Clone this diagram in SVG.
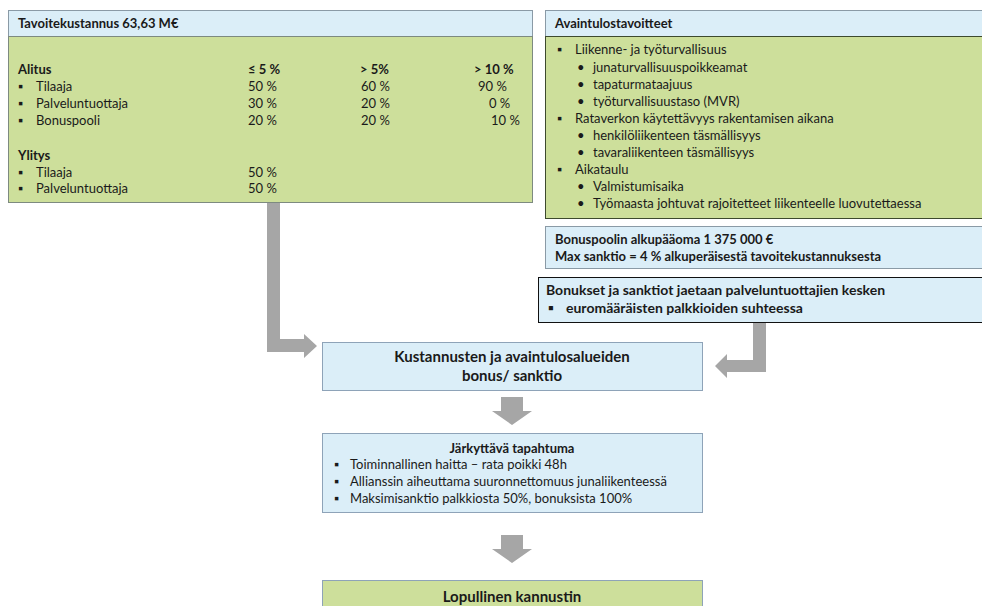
<svg xmlns="http://www.w3.org/2000/svg" width="982" height="606" viewBox="0 0 982 606">
  <style>
    text { font-family: Lato, "Open Sans", "Liberation Sans", sans-serif; font-size: 13px; fill: #1a1a1a; }
    .b { font-weight: bold; }
    .m { font-size: 14px; font-weight: bold; }
    .big { font-size: 15px; font-weight: bold; }
    .c { text-anchor: middle; }
    .hdr { fill: #dbeef8; }
    .grn { fill: #cddf9b; }
    .blu { fill: #dbeef8; }
    .arrow { fill: #a6a6a6; }
  </style>
  <rect width="982" height="606" fill="#ffffff"/>

  <!-- connectors -->
  <g id="connectors">
    <path class="arrow" d="M267,202 H280 V339 H304 V334 L317,346 L304,358 V352 H267 Z"/>
    <path class="arrow" d="M753,322 H766 V372 H727 V378 L715,366 L727,354 V360 H753 Z"/>
    <path class="arrow" d="M501,397 H523 V411 H532 L512,425 L492,411 H501 Z"/>
    <path class="arrow" d="M501,535 H523 V549 H532 L512,563 L492,549 H501 Z"/>
  </g>

  <!-- target cost -->
  <g id="tavoitekustannus">
    <rect x="8.5" y="10.5" width="524" height="26" class="hdr" stroke="#8a9aa6"/>
    <rect x="8.5" y="36.5" width="524" height="166" class="grn" stroke="#7d8a80"/>
    <text x="18" y="28" class="b">Tavoitekustannus 63,63 M€</text>
    <text x="18" y="74" class="b">Alitus</text>
    <text x="248" y="74" class="b">≤ 5 %</text>
    <text x="360" y="74" class="b">&gt; 5%</text>
    <text x="474" y="74" class="b">&gt; 10 %</text>
    <text x="18" y="91">▪</text><text x="36" y="91">Tilaaja</text>
    <text x="248" y="91">50 %</text><text x="361" y="91">60 %</text><text x="478" y="91">90 %</text>
    <text x="18" y="108">▪</text><text x="36" y="108">Palveluntuottaja</text>
    <text x="248" y="108">30 %</text><text x="361" y="108">20 %</text><text x="489" y="108">0 %</text>
    <text x="18" y="125">▪</text><text x="36" y="125">Bonuspooli</text>
    <text x="248" y="125">20 %</text><text x="361" y="125">20 %</text><text x="491" y="125">10 %</text>
    <text x="18" y="160" class="b">Ylitys</text>
    <text x="18" y="177">▪</text><text x="36" y="177">Tilaaja</text><text x="248" y="177">50 %</text>
    <text x="18" y="193">▪</text><text x="36" y="193">Palveluntuottaja</text><text x="248" y="193">50 %</text>
  </g>

  <!-- key result targets -->
  <g id="avaintulostavoitteet">
    <rect x="545.5" y="10.5" width="440" height="26" class="hdr" stroke="#8a9aa6"/>
    <rect x="545.5" y="36.5" width="440" height="182" class="grn" stroke="#3d4a2e"/>
    <text x="555" y="28" class="b">Avaintulostavoitteet</text>
    <text x="557" y="54">▪</text><text x="575" y="54">Liikenne- ja työturvallisuus</text>
    <text x="577" y="72">•</text><text x="593" y="72">junaturvallisuuspoikkeamat</text>
    <text x="577" y="89">•</text><text x="593" y="89">tapaturmataajuus</text>
    <text x="577" y="106">•</text><text x="593" y="106">työturvallisuustaso (MVR)</text>
    <text x="557" y="123">▪</text><text x="575" y="123">Rataverkon käytettävyys rakentamisen aikana</text>
    <text x="577" y="140">•</text><text x="593" y="140">henkilöliikenteen täsmällisyys</text>
    <text x="577" y="157">•</text><text x="593" y="157">tavaraliikenteen täsmällisyys</text>
    <text x="557" y="174">▪</text><text x="575" y="174">Aikataulu</text>
    <text x="577" y="191">•</text><text x="593" y="191">Valmistumisaika</text>
    <text x="577" y="208">•</text><text x="593" y="208">Työmaasta johtuvat rajoitetteet liikenteelle luovutettaessa</text>
  </g>

  <!-- bonus pool -->
  <g id="bonuspooli">
    <rect x="545.5" y="226.5" width="440" height="42" class="blu" stroke="#8a9aa6"/>
    <text x="555" y="244" class="b">Bonuspoolin alkupääoma 1 375 000 €</text>
    <text x="555" y="261" class="b">Max sanktio = 4 % alkuperäisestä tavoitekustannuksesta</text>
  </g>

  <!-- distribution -->
  <g id="jakautuminen">
    <rect x="538.5" y="277.5" width="447" height="45" class="blu" stroke="#111111"/>
    <text x="546" y="295" class="m">Bonukset ja sanktiot jaetaan palveluntuottajien kesken</text>
    <text x="548" y="313" class="m">▪</text><text x="566" y="313" class="m">euromääräisten palkkioiden suhteessa</text>
  </g>

  <!-- combined bonus / sanction -->
  <g id="kustannukset">
    <rect x="322.5" y="342.5" width="380" height="48" class="blu" stroke="#8ea3b8"/>
    <text x="512" y="362" class="big c">Kustannusten ja avaintulosalueiden</text>
    <text x="512" y="381" class="big c">bonus/ sanktio</text>
  </g>

  <!-- shocking event -->
  <g id="jarkyttava">
    <rect x="322.5" y="433.5" width="380" height="79" class="blu" stroke="#8ea3b8"/>
    <text x="512" y="453" class="b c">Järkyttävä tapahtuma</text>
    <text x="334" y="469">▪</text><text x="350" y="469">Toiminnallinen haitta – rata poikki 48h</text>
    <text x="334" y="486">▪</text><text x="350" y="486">Allianssin aiheuttama suuronnettomuus junaliikenteessä</text>
    <text x="334" y="503">▪</text><text x="350" y="503">Maksimisanktio palkkiosta 50%, bonuksista 100%</text>
  </g>

  <!-- final incentive -->
  <g id="lopullinen">
    <rect x="322.5" y="580.5" width="380" height="40" class="grn" stroke="#8ea3b8"/>
    <text x="512" y="602" class="big c">Lopullinen kannustin</text>
  </g>
</svg>
